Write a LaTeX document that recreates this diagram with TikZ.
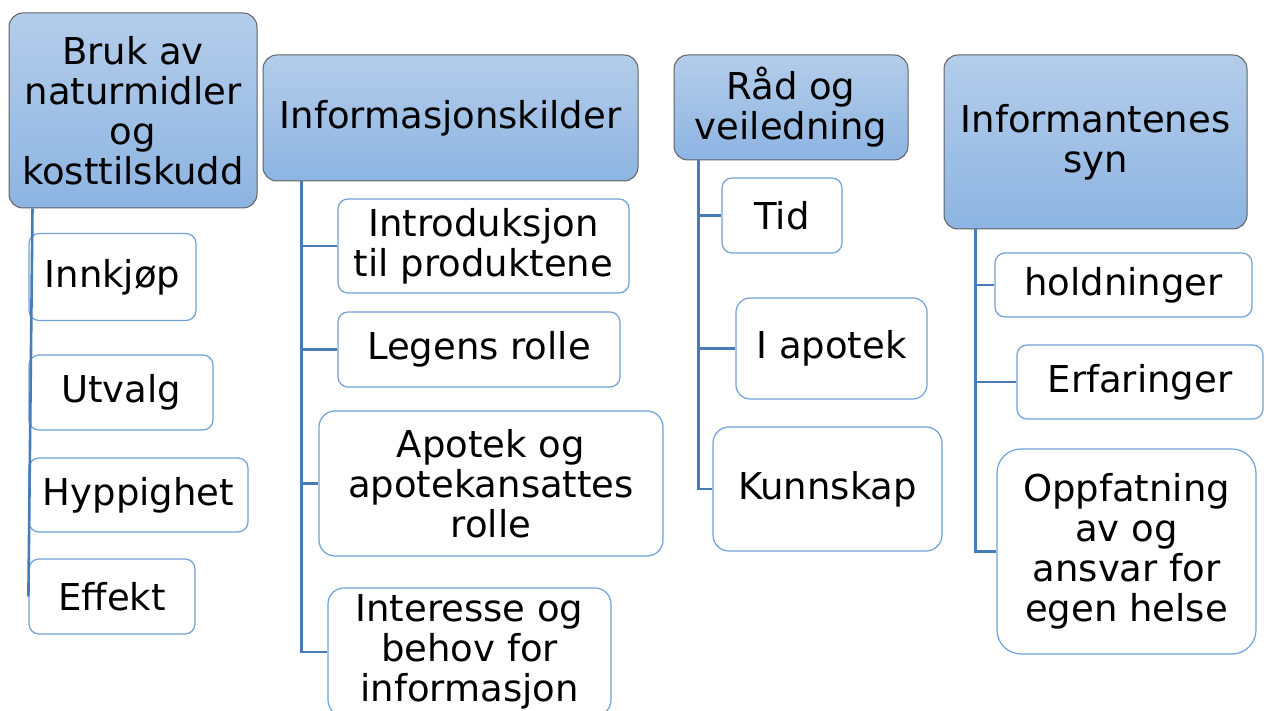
\documentclass[tikz,border=0pt]{standalone}
\usepackage{fontspec}
\setmainfont{DejaVu Sans}
\definecolor{headtop}{RGB}{180,205,234}
\definecolor{headbottom}{RGB}{141,180,226}
\definecolor{headborder}{RGB}{96,96,96}
\definecolor{itemborder}{RGB}{112,162,216}
\definecolor{treeline}{RGB}{72,124,184}
\tikzset{
	head/.style={draw=headborder, line width=0.5pt, rounded corners=7pt, top color=headtop, bottom color=headbottom, align=center, inner sep=0pt, font=\fontsize{18.5pt}{20pt}\selectfont},
	item/.style={draw=itemborder, line width=0.6pt, rounded corners=5pt, fill=white, align=center, inner sep=0pt, font=\fontsize{18.5pt}{20pt}\selectfont},
	branchline/.style={draw=treeline, line width=1.3pt},
}
\newcommand{\sublink}[3]{% {header}{spine offset}{item}
	\draw[branchline] ([xshift=#2]#1.south west) |- (#3.west); % spine and stub
}
\begin{document}
\begin{tikzpicture}[x=0.5pt, y=-0.5pt]
	\useasboundingbox (0,0) rectangle (1266,711);
	\clip (0,0) rectangle (1266,711);

	% first column
	\node[head, minimum width=124pt, minimum height=97.5pt] (bruk) at (133,110.5) {Bruk av\\naturmidler\\og\\kosttilskudd};
	\node[item, minimum width=83.5pt, minimum height=43.5pt] (innkjop) at (112.5,277) {Innkjøp};
	\node[item, minimum width=92pt, minimum height=37.5pt] (utvalg) at (121,392.5) {Utvalg};
	\node[item, minimum width=109.5pt, minimum height=37pt] (hyppighet) at (138.5,495) {Hyppighet};
	\node[item, minimum width=83pt, minimum height=37.5pt] (effekt) at (112,596.5) {Effekt};
	\draw[branchline] ([xshift=12pt]bruk.south west) -- (effekt.west);

	% second column
	\node[head, minimum width=187.5pt, minimum height=63pt] (kilder) at (450.5,118) {Informasjonskilder};
	\node[item, minimum width=145.5pt, minimum height=47pt] (intro) at (483.5,246) {Introduksjon\\til produktene};
	\node[item, minimum width=141pt, minimum height=37.5pt] (legen) at (479,349.5) {Legens rolle};
	\node[item, minimum width=172pt, minimum height=72.5pt, rounded corners=8pt] (apotek) at (491,483.5) {Apotek og\\apotekansattes\\rolle};
	\node[item, minimum width=141.5pt, minimum height=64pt, rounded corners=8pt] (interesse) at (469.5,652) {Interesse og\\behov for\\informasjon};
	\sublink{kilder}{19.5pt}{intro}
	\sublink{kilder}{19.5pt}{legen}
	\sublink{kilder}{19.5pt}{apotek}
	\sublink{kilder}{19.5pt}{interesse}

	% third column
	\node[head, minimum width=117pt, minimum height=52.5pt] (rad) at (791,107.5) {Råd og\\veiledning};
	\node[item, minimum width=60pt, minimum height=37.5pt] (tid) at (782,215.5) {Tid};
	\node[item, minimum width=95.5pt, minimum height=50.5pt, rounded corners=7pt] (iapotek) at (831.5,348.5) {I apotek};
	\node[item, minimum width=114.5pt, minimum height=62pt, rounded corners=8pt] (kunnskap) at (827.5,489) {Kunnskap};
	\sublink{rad}{12.5pt}{tid}
	\sublink{rad}{12.5pt}{iapotek}
	\sublink{rad}{12.5pt}{kunnskap}

	% fourth column
	\node[head, minimum width=151.5pt, minimum height=87pt] (syn) at (1095.5,142) {Informantenes\\syn};
	\node[item, minimum width=128.5pt, minimum height=32pt] (holdninger) at (1123.5,285) {holdninger};
	\node[item, minimum width=123pt, minimum height=37pt] (erfaringer) at (1140,382) {Erfaringer};
	\node[item, minimum width=129.5pt, minimum height=102.5pt, rounded corners=12pt] (oppfatning) at (1126.5,551.5) {Oppfatning\\av og\\ansvar for\\egen helse};
	\sublink{syn}{16pt}{holdninger}
	\sublink{syn}{16pt}{erfaringer}
	\sublink{syn}{16pt}{oppfatning}
\end{tikzpicture}
\end{document}
